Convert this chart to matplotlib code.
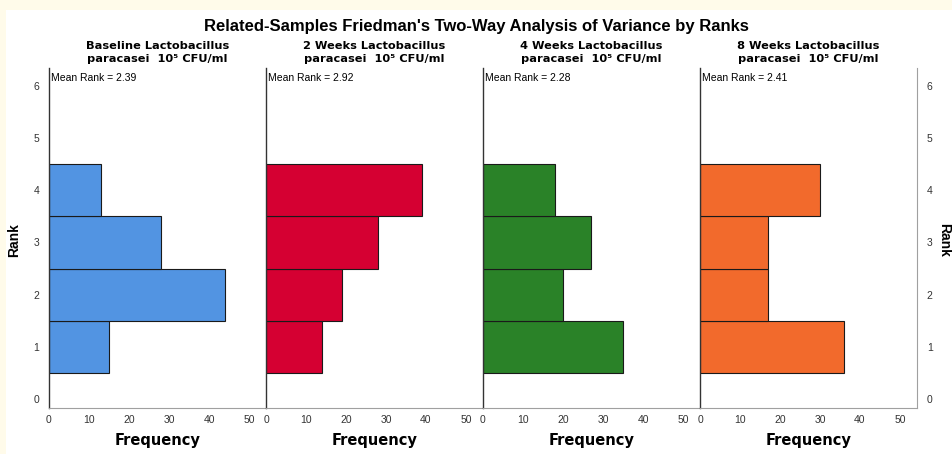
import numpy as np
import matplotlib.pyplot as plt
import matplotlib.transforms as mtransforms
from matplotlib.patches import Rectangle

plt.rcParams['font.family'] = ['Liberation Sans', 'DejaVu Sans']

ranks = [1, 2, 3, 4]
panel_line1 = ['Baseline Lactobacillus', '2 Weeks Lactobacillus',
               '4 Weeks Lactobacillus', '8 Weeks Lactobacillus']
panel_line2 = 'paracasei  10⁵ CFU/ml'
freq_baseline = [15, 44, 28, 13]
freq_2weeks = [14, 19, 28, 39]
freq_4weeks = [35, 20, 27, 18]
freq_8weeks = [36, 17, 17, 30]
mean_ranks = ['2.39', '2.92', '2.28', '2.41']
colors = ['#5294e2', '#d50032', '#2a8228', '#f26a2c']
x_ticks = [0, 10, 20, 30, 40, 50]
y_ticks = [0, 1, 2, 3, 4, 5, 6]

freqs = [freq_baseline, freq_2weeks, freq_4weeks, freq_8weeks]

fig = plt.figure(figsize=(9.52, 4.54), dpi=100, facecolor='#fffbea')
# white page area inside the cream border
fig.patches.append(Rectangle((6 / 952, 0), 1, 1 - 10 / 454, transform=fig.transFigure,
                             facecolor='white', edgecolor='none', zorder=-5))

left0 = 49 / 952
w = 217 / 952
bottom = 1 - 408 / 454
h = (408 - 68) / 454

for i in range(4):
    ax = fig.add_axes([left0 + i * w, bottom, w, h])
    ax.patch.set_alpha(0)
    ax.barh(ranks, freqs[i], height=1.0, color=colors[i], edgecolor='#1a1a1a', linewidth=0.8)
    ax.set_xlim(0, 54.25)
    ax.set_ylim(-0.1725, 6.345)
    ax.set_xticks(x_ticks)
    ax.set_xticklabels([str(t) for t in x_ticks], fontsize=7.5, color='#333333')
    ax.tick_params(axis='x', length=0, pad=5)
    ax.set_yticks(y_ticks)
    ax.tick_params(axis='y', length=0, labelsize=7.5, labelcolor='#333333', pad=7)
    if i == 0:
        ax.yaxis.tick_left()
    elif i == 3:
        ax.yaxis.tick_right()
    else:
        ax.set_yticklabels([])
    ax.spines['top'].set_visible(False)
    ax.spines['right'].set_visible(i == 3)
    ax.spines['right'].set_color('#a0a0a0')
    ax.spines['left'].set_color('#333333')
    ax.spines['left'].set_linewidth(1.0)
    ax.spines['bottom'].set_color('#a0a0a0')
    ax.set_xlabel('Frequency', fontsize=10.5, fontweight='bold', labelpad=6,
                  family=['DejaVu Sans'])
    trans = mtransforms.blended_transform_factory(ax.transAxes, fig.transFigure)
    ax.text(0.5, 1 - 46 / 454, panel_line1[i], transform=trans, ha='center', va='center',
            fontsize=8.2, fontweight='bold', family=['DejaVu Sans'])
    ax.text(0.5, 1 - 58.5 / 454, panel_line2, transform=trans, ha='center', va='center',
            fontsize=8.2, fontweight='bold', family=['DejaVu Sans'])
    ax.text(0.01, 0.985, 'Mean Rank = ' + mean_ranks[i], transform=ax.transAxes,
            fontsize=7.5, va='top', ha='left')

fig.text(14 / 952, 1 - 240 / 454, 'Rank', fontsize=10, fontweight='bold',
         rotation=90, ha='center', va='center')
fig.text(944 / 952, 1 - 240 / 454, 'Rank', fontsize=10, fontweight='bold',
         rotation=270, ha='center', va='center')

fig.suptitle("Related-Samples Friedman's Two-Way Analysis of Variance by Ranks",
             fontsize=12, fontweight='bold', y=1 - 27 / 454, va='center')

fig.savefig('out.png', dpi=100, facecolor=fig.get_facecolor())
